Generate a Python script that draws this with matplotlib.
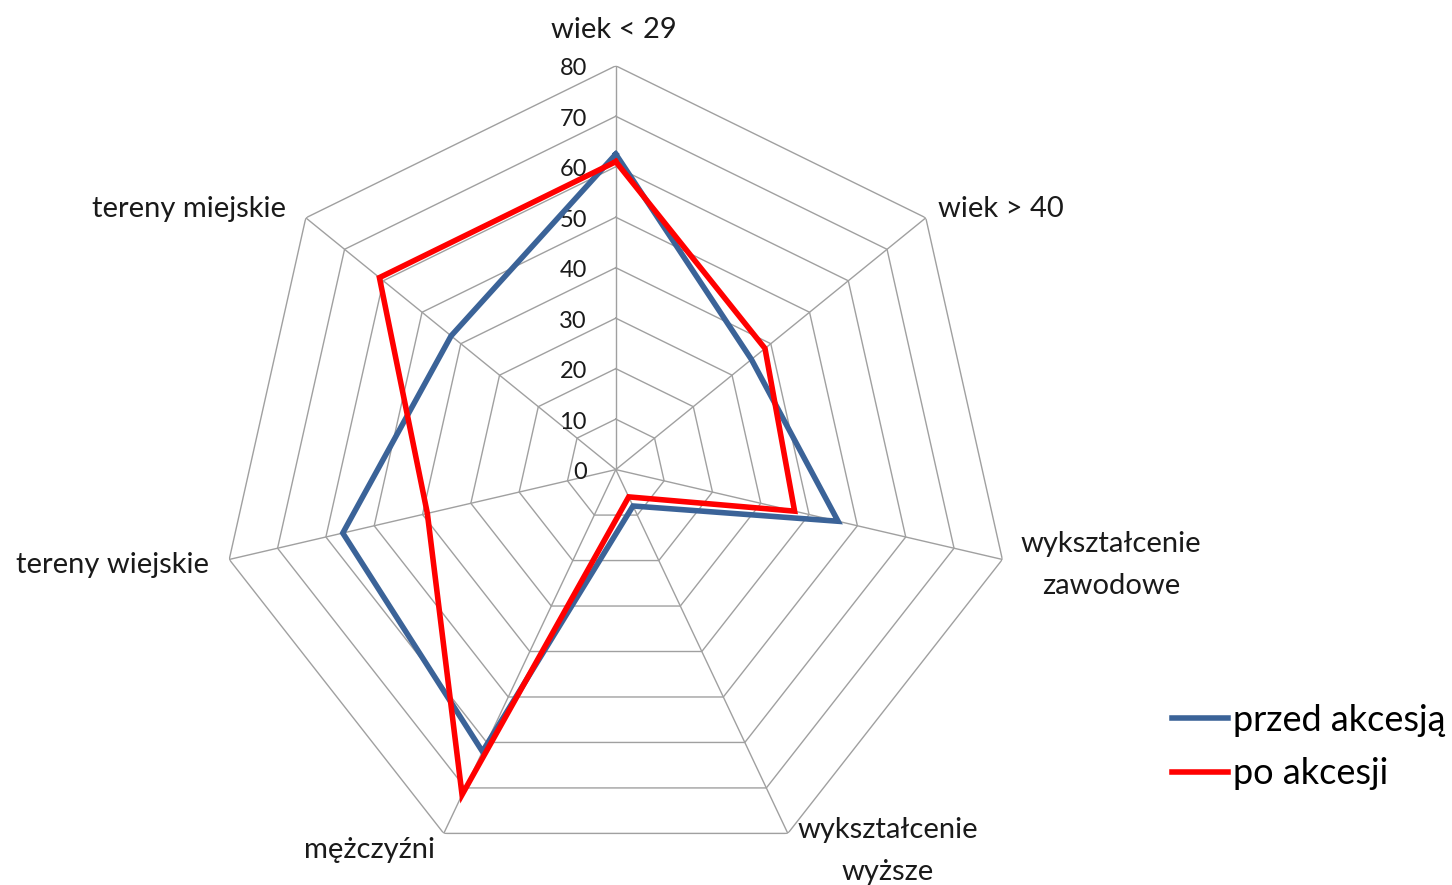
import numpy as np
import matplotlib
matplotlib.use('Agg')
import matplotlib.pyplot as plt

# ---- data ----
categories = ['wiek < 29', 'wiek > 40', 'wykształcenie\nzawodowe',
              'wykształcenie\nwyższe', 'mężczyźni', 'tereny wiejskie',
              'tereny miejskie']
przed_akcesja = [62.5, 35, 46, 8, 62, 56.5, 42.5]
po_akcesji = [61, 38.5, 37, 6, 71.5, 39, 61]
series_names = ['przed akcesją', 'po akcesji']
ring_values = [0, 10, 20, 30, 40, 50, 60, 70, 80]

# ---- layout ----
W, H = 1452, 885
fig = plt.figure(figsize=(W / 100, H / 100), dpi=100)
fig.patch.set_facecolor('white')
plt.rcParams['font.family'] = ['Lato', 'DejaVu Sans']

cx, cy = 615.8, 469.6
rx, ry = 396.5, 403.8
ax = fig.add_axes([(cx - rx) / W, (H - cy - ry) / H, 2 * rx / W, 2 * ry / H],
                  projection='polar')
ax.set_aspect('auto')
ax.set_theta_zero_location('N')
ax.set_theta_direction(-1)
ax.set_ylim(0, 80)
ax.grid(False)
ax.set_xticks([])
ax.set_yticks([])
ax.spines['polar'].set_visible(False)
ax.patch.set_visible(False)

n = len(categories)
theta = np.arange(n) * 2 * np.pi / n
theta_closed = np.append(theta, theta[0])

grid_color = '#a0a0a0'
for r in ring_values[1:]:
    ax.plot(theta_closed, [r] * (n + 1), color=grid_color, lw=1.0, zorder=1)
for t in theta:
    ax.plot([t, t], [0, ring_values[-1]], color=grid_color, lw=1.0, zorder=1)

# tick labels along top spoke
for r in ring_values:
    ax.annotate(str(r), xy=(0, r), xytext=(-29, -3), textcoords='offset pixels',
                ha='right', va='center', fontsize=17, color='#1a1a1a',
                annotation_clip=False)

colors = ['#3b6398', '#ff0000']
for vals, col, name, z in zip([przed_akcesja, po_akcesji], colors, series_names, [3, 4]):
    v = list(vals) + [vals[0]]
    ax.plot(theta_closed, v, color=col, lw=4.0, solid_joinstyle='miter',
            zorder=z, label=name, clip_on=False)

# category labels (pixel positions: anchor x, first baseline y)
label_pos = [(614, 37.7, 'center'), (938, 217, 'left'), (1111, 551.7, 'center'),
             (888, 838, 'center'), (369, 858, 'center'), (112, 573, 'center'),
             (188.5, 217, 'center')]
line_gap = 42.3
for cat, (x, y, ha) in zip(categories, label_pos):
    for i, line in enumerate(cat.split('\n')):
        fig.text(x / W, 1 - (y + i * line_gap) / H, line, ha=ha, va='baseline',
                 fontsize=21, color='#1a1a1a')

handles, labels = ax.get_legend_handles_labels()
fig.legend(handles, labels, loc='center left',
           bbox_to_anchor=(1172 / W, 1 - 747 / H), frameon=False, fontsize=26,
           handlelength=1.55, handletextpad=0.15, borderpad=0, borderaxespad=0,
           labelspacing=0.58)

fig.savefig('out.png', dpi=100)
